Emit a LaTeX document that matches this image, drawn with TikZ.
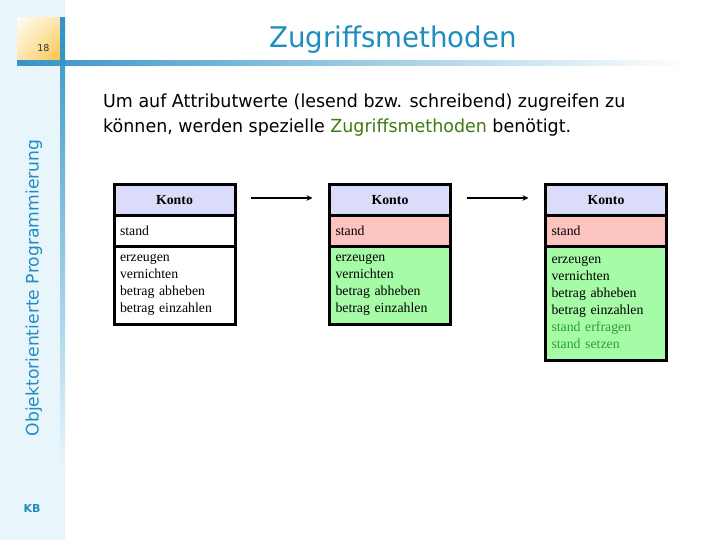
\documentclass[tikz,border=0pt]{standalone}
\usepackage{fontspec}
\usetikzlibrary{arrows.meta,shadings}
\newfontfamily\tah[FakeStretch=0.97]{DejaVu Sans}
\newfontfamily\tahw{DejaVu Sans}
\newfontfamily\tms{Liberation Serif}
\definecolor{sidebg}{HTML}{E8F6FC}
\definecolor{barblue}{HTML}{3694C6}
\definecolor{titleblue}{HTML}{1F8DC0}
\definecolor{olive}{HTML}{3F7A12}
\definecolor{lav}{HTML}{DADCFA}
\definecolor{pinkish}{HTML}{FCC4C0}
\definecolor{lgreen}{HTML}{A6FCA6}
\definecolor{mgreen}{HTML}{2E9E2E}
\definecolor{ylwA}{HTML}{FFFCF2}
\definecolor{ylwB}{HTML}{FCE6B0}
\definecolor{ylwC}{HTML}{F8C448}
\tikzset{
  part/.style={draw=black, line width=3pt, outer sep=0pt, minimum width=121pt, anchor=north, inner sep=0pt, font=\tms\fontsize{13.8}{17}\selectfont},
  hdrpart/.style={part, minimum height=31pt, fill=lav, font=\tms\bfseries\fontsize{13.8}{17}\selectfont},
  attrpart/.style={part, minimum height=30pt, text width=109pt, align=left},
  methpart/.style={part, text width=109pt, align=left},
  flow/.style={line width=2pt, -{Stealth[length=6pt,width=5.5pt]}}
}
\begin{document}
\begin{tikzpicture}[x=1pt,y=-1pt]
\useasboundingbox (0,0) rectangle (720,540);
\fill[white] (0,0) rectangle (720,540);
% sidebar
\fill[sidebg] (0,0) rectangle (65,540);
\shade[top color=barblue, bottom color=sidebg] (60,18) rectangle (65,470);
\shade[upper left=ylwA, upper right=ylwB, lower left=ylwB, lower right=ylwC] (17,18) rectangle (60,61);
\shade[left color=barblue, right color=white] (17,61) rectangle (690,66);
\fill[barblue] (60,18) rectangle (65,66);
\node[anchor=east, font=\tahw\fontsize{9.5}{10}\selectfont, text=black!80] (pg) at (53,48) {18};
\node[rotate=90, font=\tahw\fontsize{17.2}{18}\selectfont, text=titleblue] (side) at (34,288) {Objektorientierte Programmierung};
\node[font=\tahw\bfseries\fontsize{11}{12}\selectfont, text=titleblue] (kb) at (32,508) {KB};
% title
\node[font=\tah\fontsize{28.5}{32}\selectfont, text=titleblue] (title) at (393,40) {Zugriffsmethoden};
% body text
\node[anchor=north west, align=left, inner sep=0pt, font=\tah\fontsize{18}{24.5}\selectfont] (body) at (103,94)
  {Um auf Attributwerte (lesend bzw. schreibend) zugreifen zu\\
   können, werden spezielle \textcolor{olive}{Zugriffsmethoden} benötigt.};
% box 1
\node[hdrpart] (k1h) at (174.5,185) {Konto};
\node[attrpart, fill=white] (k1a) at (k1h.south) {stand};
\node[methpart, fill=white, minimum height=78pt] (k1m) at (k1a.south) {erzeugen\\vernichten\\betrag abheben\\betrag einzahlen};
% box 2
\node[hdrpart] (k2h) at (390,185) {Konto};
\node[attrpart, fill=pinkish] (k2a) at (k2h.south) {stand};
\node[methpart, fill=lgreen, minimum height=78pt] (k2m) at (k2a.south) {erzeugen\\vernichten\\betrag abheben\\betrag einzahlen};
% box 3
\node[hdrpart] (k3h) at (606,185) {Konto};
\node[attrpart, fill=pinkish] (k3a) at (k3h.south) {stand};
\node[methpart, fill=lgreen, minimum height=114pt] (k3m) at (k3a.south) {erzeugen\\vernichten\\betrag abheben\\betrag einzahlen\\\textcolor{mgreen}{stand erfragen}\\\textcolor{mgreen}{stand setzen}};
% arrows
\draw[flow] ([xshift=16pt,yshift=2.5pt]k1h.east) -- ([xshift=-17pt,yshift=2.5pt]k2h.west);
\draw[flow] ([xshift=16pt,yshift=2.5pt]k2h.east) -- ([xshift=-17pt,yshift=2.5pt]k3h.west);
\end{tikzpicture}
\end{document}
